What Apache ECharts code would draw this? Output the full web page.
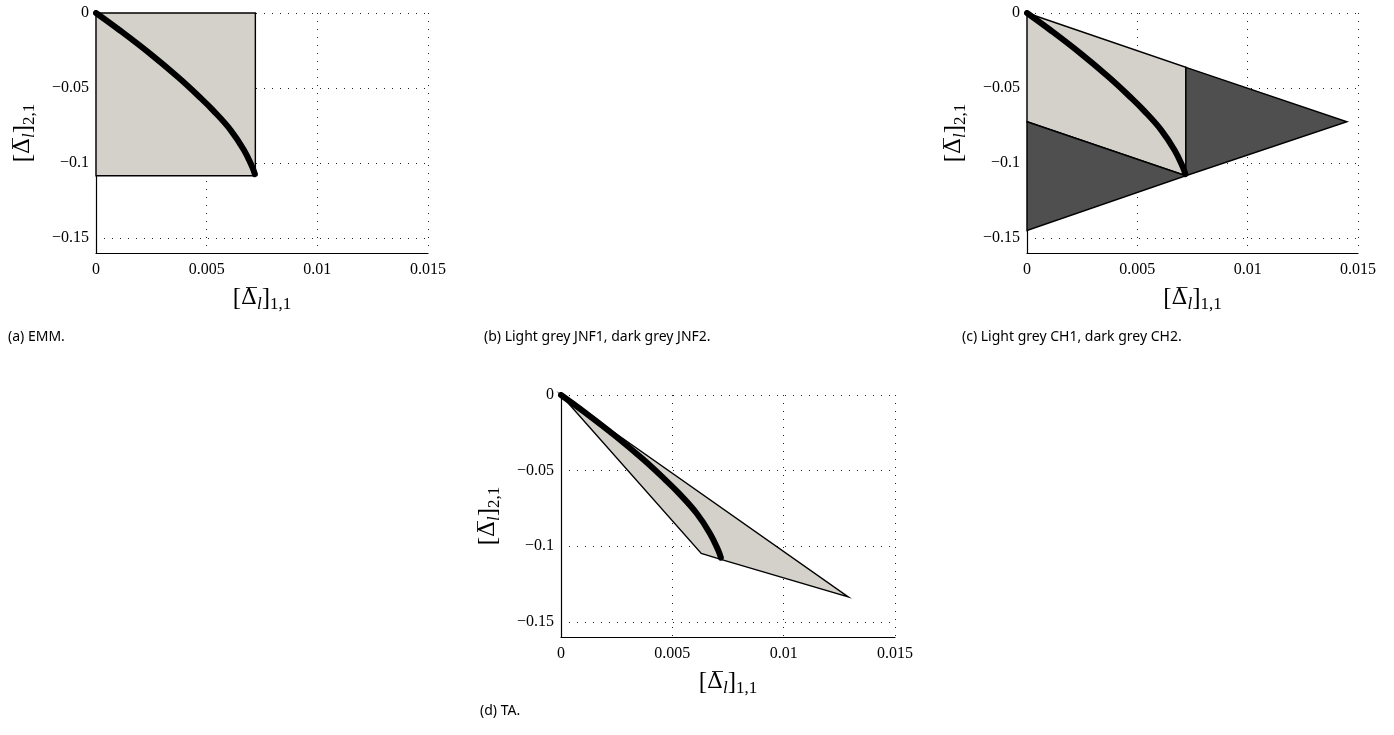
<!DOCTYPE html>
<html>
<head>
<meta charset="utf-8">
<title>Delta bounds</title>
<script src="https://cdn.jsdelivr.net/npm/echarts@6/dist/echarts.min.js"></script>
<style>
  html, body { margin: 0; padding: 0; background: #fff; }
  #main { width: 1394px; height: 735px; }
</style>
</head>
<body>
<div id="main"></div>
<script>
// tick values and their printed labels
const xTickVals = [0, 0.005, 0.01, 0.015]
const xTickLabels = ['0', '0.005', '0.01', '0.015']
const yTickVals = [0, -0.05, -0.1, -0.15]
const yTickLabels = ['0', '\u22120.05', '\u22120.1', '\u22120.15']

// thick curve (same in every panel)
const curve = [
    [0, 0], [0.00107, -0.0115], [0.00244, -0.0271], [0.0037, -0.0427],
    [0.00468, -0.056], [0.00529, -0.0649], [0.00609, -0.0782],
    [0.00669, -0.0915], [0.00706, -0.1027], [0.00718, -0.1075]
]

// (a) EMM box
const emmBox = [[0, 0], [0.0072, 0], [0.0072, -0.1085], [0, -0.1085]]

// (c) CH1 light, CH2 dark
const ch1 = [[0, 0], [0.0072, -0.0362], [0.0072, -0.1085], [0, -0.0725]]
const ch2Right = [[0.0072, -0.0362], [0.0145, -0.0725], [0.0072, -0.1085]]
const ch2Left = [[0, -0.0725], [0.0072, -0.1085], [0, -0.145]]

// (d) TA
const taPoly = [[0, 0], [0.0129, -0.1335], [0.00714, -0.1085], [0.0063, -0.1048]]

const captions = [
    {text: '(a) EMM.', left: 8, top: 330},
    {text: '(b) Light grey JNF1, dark grey JNF2.', left: 484, top: 330},
    {text: '(c) Light grey CH1, dark grey CH2.', left: 962, top: 330},
    {text: '(d) TA.', left: 480, top: 704}
]

const LIGHT = '#d4d0ca'
const DARK = '#4f4f4f'
const serif = 'Liberation Serif'

const grids = [
    {left: 96, top: 13, width: 332, height: 240},
    {left: 1027, top: 13, width: 331, height: 240},
    {left: 561, top: 395, width: 334, height: 242}
]

const nameRich = {
    b: {fontFamily: serif, fontSize: 25, color: '#000', lineHeight: 30},
    d: {fontFamily: 'DejaVu Serif', fontSize: 22, color: '#000', lineHeight: 30},
    s: {fontFamily: serif, fontSize: 17, color: '#000', verticalAlign: 'bottom', lineHeight: 30},
    i: {fontFamily: serif, fontSize: 17, fontStyle: 'italic', color: '#000', verticalAlign: 'bottom', lineHeight: 30}
}
function axisName(sub) {
    return '{b|[}{d|\u0394\u0305}{i|l}{b|]}{s|' + sub + '}'
}

const dotted = {color: '#222', width: 1, type: [1, 7]}
const tickFont = {color: '#000', fontFamily: serif, fontSize: 16}

function makeX(i) {
    return {
        type: 'value', gridIndex: i, min: 0, max: 0.015, interval: 0.005,
        name: axisName('1,1'), nameLocation: 'middle', nameGap: 30,
        nameTextStyle: {rich: nameRich},
        axisLine: {show: true, onZero: false, lineStyle: {color: '#000', width: 1.2}},
        axisTick: {show: false},
        axisLabel: Object.assign({
            margin: 9,
            formatter: v => {
                const k = xTickVals.findIndex(t => Math.abs(t - v) < 1e-9)
                return k < 0 ? '' : xTickLabels[k]
            }
        }, tickFont),
        splitLine: {show: true, lineStyle: dotted}
    }
}
function makeY(i) {
    return {
        type: 'value', gridIndex: i, min: -0.16, max: 0,
        name: axisName('2,1'), nameLocation: 'middle', nameGap: 58,
        nameTextStyle: {rich: nameRich},
        axisLine: {show: true, onZero: false, lineStyle: {color: '#000', width: 1.2}},
        axisTick: {show: false, customValues: yTickVals},
        axisLabel: Object.assign({
            customValues: yTickVals,
            margin: 7,
            formatter: v => {
                const k = yTickVals.findIndex(t => Math.abs(t - v) < 1e-9)
                return k < 0 ? '' : yTickLabels[k]
            }
        }, tickFont),
        splitLine: {show: true, lineStyle: dotted}
    }
}

function polygon(points, fill, idx) {
    return {
        type: 'custom', xAxisIndex: idx, yAxisIndex: idx, clip: false,
        silent: true, z: 3,
        data: [points[0]],
        renderItem: (params, api) => ({
            type: 'polygon',
            shape: {points: points.map(p => api.coord(p))},
            style: {fill: fill, stroke: '#000', lineWidth: 1.4}
        })
    }
}
function thickCurve(idx) {
    return {
        type: 'line', xAxisIndex: idx, yAxisIndex: idx, data: curve,
        smooth: 0.4, showSymbol: false, silent: true, z: 5,
        lineStyle: {color: '#000', width: 6, cap: 'round'}
    }
}

const chart = echarts.init(document.getElementById('main'))
chart.setOption({
    animation: false,
    backgroundColor: '#fff',
    textStyle: {fontFamily: serif},
    title: captions.map(c => ({
        text: c.text, left: c.left, top: c.top, padding: 0,
        textStyle: {fontFamily: 'Noto Sans', fontSize: 14, fontWeight: 'normal', color: '#000'}
    })),
    grid: grids,
    xAxis: [makeX(0), makeX(1), makeX(2)],
    yAxis: [makeY(0), makeY(1), makeY(2)],
    series: [
        polygon(emmBox, LIGHT, 0),
        thickCurve(0),
        polygon(ch1, LIGHT, 1),
        polygon(ch2Right, DARK, 1),
        polygon(ch2Left, DARK, 1),
        thickCurve(1),
        polygon(taPoly, LIGHT, 2),
        thickCurve(2)
    ]
})
</script>
</body>
</html>
